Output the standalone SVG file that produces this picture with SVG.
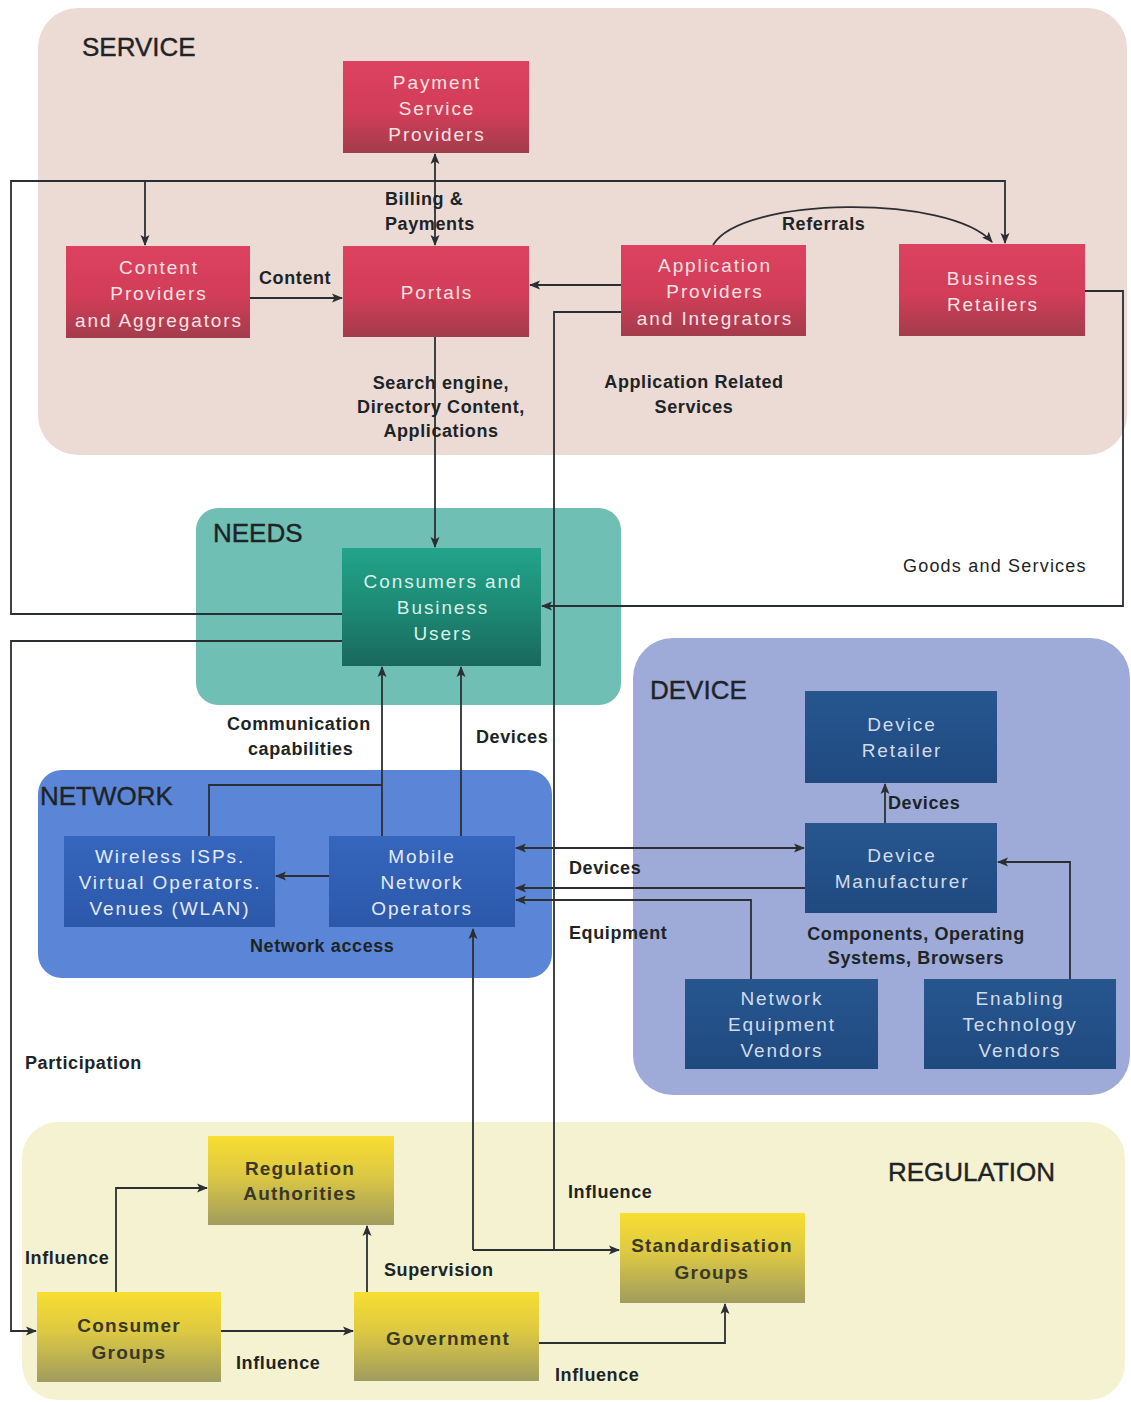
<svg xmlns="http://www.w3.org/2000/svg" width="1131" height="1402" viewBox="0 0 1131 1402">
  <defs>
    <linearGradient id="gRed" x1="0" y1="0" x2="0" y2="1">
      <stop offset="0" stop-color="#dc4260"/>
      <stop offset="0.55" stop-color="#d23d58"/>
      <stop offset="1" stop-color="#a23c4c"/>
    </linearGradient>
    <linearGradient id="gTeal" x1="0" y1="0" x2="0" y2="1">
      <stop offset="0" stop-color="#22a48b"/>
      <stop offset="0.5" stop-color="#1d8a74"/>
      <stop offset="1" stop-color="#19685d"/>
    </linearGradient>
    <linearGradient id="gNavy" x1="0" y1="0" x2="0" y2="1">
      <stop offset="0" stop-color="#27568f"/>
      <stop offset="1" stop-color="#1f4a80"/>
    </linearGradient>
    <linearGradient id="gBlue" x1="0" y1="0" x2="0" y2="1">
      <stop offset="0" stop-color="#3566bd"/>
      <stop offset="1" stop-color="#2c58aa"/>
    </linearGradient>
    <linearGradient id="gYellow" x1="0" y1="0" x2="0" y2="1">
      <stop offset="0" stop-color="#f8de30"/>
      <stop offset="0.45" stop-color="#dcc843"/>
      <stop offset="1" stop-color="#a09c5e"/>
    </linearGradient>
    <marker id="arr" markerUnits="userSpaceOnUse" markerWidth="11" markerHeight="10" refX="10" refY="5" orient="auto-start-reverse">
      <path d="M0,0.5 L11,5 L0,9.5 L2.5,5 z" fill="#2b2f33"/>
    </marker>
  </defs>
  <style>
    .zone-title { font-family: "Liberation Sans", Arial, sans-serif; font-size: 26px; fill: #1f2326; stroke: #1f2326; stroke-width: 0.4; }
    .node-text { font-family: "Liberation Sans", Arial, sans-serif; font-size: 19px; letter-spacing: 1.9px; text-anchor: middle; }
    .red .node-text { fill: #f7e2e2; }
    .teal .node-text { fill: #d9f0ea; }
    .navy .node-text { fill: #d3dcea; }
    .blue .node-text { fill: #e4eaf6; }
    .yellow .node-text { fill: #3a3826; font-weight: bold; letter-spacing: 1.2px; }
    .label { font-family: "Liberation Sans", Arial, sans-serif; font-size: 18px; font-weight: bold; letter-spacing: 0.6px; fill: #1d2426; }
    .label-c { text-anchor: middle; }
    .label-r { font-weight: normal; letter-spacing: 1.2px; font-size: 18px; }
    .wire { fill: none; stroke: #2b2f33; stroke-width: 1.8; }
    .wire-a { fill: none; stroke: #2b2f33; stroke-width: 1.8; marker-end: url(#arr); }
    .wire-aa { fill: none; stroke: #2b2f33; stroke-width: 1.8; marker-start: url(#arr); marker-end: url(#arr); }
  </style>

  <rect width="1131" height="1402" fill="#ffffff"/>

  <!-- zones -->
  <g id="zones">
    <rect x="38" y="8" width="1089" height="447" rx="40" fill="#ecdad4"/>
    <rect x="196" y="508" width="425" height="197" rx="22" fill="#6fbfb4"/>
    <rect x="633" y="638" width="497" height="457" rx="40" fill="#9eaad8"/>
    <rect x="38" y="770" width="514" height="208" rx="24" fill="#5b86d8"/>
    <rect x="22" y="1122" width="1103" height="278" rx="36" fill="#f5f2d2"/>
    <text class="zone-title" x="82" y="56">SERVICE</text>
    <text class="zone-title" x="213" y="542">NEEDS</text>
    <text class="zone-title" x="650" y="699">DEVICE</text>
    <text class="zone-title" x="40" y="805">NETWORK</text>
    <text class="zone-title" x="888" y="1181">REGULATION</text>
  </g>

  <!-- connectors -->
  <g id="connectors">
    <path class="wire-a" d="M342,614 H11 V181 H1005 V243"/>
    <path class="wire-a" d="M145,181 V245"/>
    <path class="wire-aa" d="M435,154 V245"/>
    <path class="wire-a" d="M250,298 H342"/>
    <path class="wire-a" d="M621,285 H530"/>
    <path class="wire-a" d="M713,245 C742,196 950,194 992,242"/>
    <path class="wire-a" d="M435,337 V547"/>
    <path class="wire" d="M621,312 H554 V1250"/>
    <path class="wire-a" d="M473,1250 H619"/>
    <path class="wire-a" d="M473,1250 V929"/>
    <path class="wire-a" d="M1085,291 H1123 V606 H542"/>
    <path class="wire-a" d="M342,641 H11 V1331 H36"/>
    <path class="wire-a" d="M382,836 V667"/>
    <path class="wire" d="M209,836 V785 H382"/>
    <path class="wire-a" d="M461,836 V667"/>
    <path class="wire-a" d="M329,876 H276"/>
    <path class="wire-aa" d="M516,848 H804"/>
    <path class="wire-a" d="M805,888 H516"/>
    <path class="wire-a" d="M751,979 V900 H516"/>
    <path class="wire-a" d="M885,823 V784"/>
    <path class="wire-a" d="M1070,979 V862 H998"/>
    <path class="wire-a" d="M116,1292 V1188 H207"/>
    <path class="wire-a" d="M221,1331 H353"/>
    <path class="wire-a" d="M367,1292 V1226"/>
    <path class="wire-a" d="M539,1343 H725 V1304"/>
  </g>

  <!-- connector labels -->
  <g id="labels">
    <text class="label" x="385" y="205">Billing &amp;</text>
    <text class="label" x="385" y="230">Payments</text>
    <text class="label" x="259" y="284">Content</text>
    <text class="label" x="782" y="230">Referrals</text>
    <text class="label label-c" x="441" y="389">Search engine,</text>
    <text class="label label-c" x="441" y="413">Directory Content,</text>
    <text class="label label-c" x="441" y="437">Applications</text>
    <text class="label label-c" x="694" y="388">Application Related</text>
    <text class="label label-c" x="694" y="413">Services</text>
    <text class="label label-r" x="903" y="572">Goods and Services</text>
    <text class="label" x="227" y="730">Communication</text>
    <text class="label" x="248" y="755">capabilities</text>
    <text class="label" x="476" y="743">Devices</text>
    <text class="label" x="250" y="952">Network access</text>
    <text class="label" x="569" y="874">Devices</text>
    <text class="label" x="569" y="939">Equipment</text>
    <text class="label" x="888" y="809">Devices</text>
    <text class="label label-c" x="916" y="940">Components, Operating</text>
    <text class="label label-c" x="916" y="964">Systems, Browsers</text>
    <text class="label" x="25" y="1069">Participation</text>
    <text class="label" x="25" y="1264">Influence</text>
    <text class="label" x="568" y="1198">Influence</text>
    <text class="label" x="384" y="1276">Supervision</text>
    <text class="label" x="236" y="1369">Influence</text>
    <text class="label" x="555" y="1381">Influence</text>
  </g>

  <!-- service nodes -->
  <g id="payment-service-providers" class="red">
    <rect x="343" y="61" width="186" height="92" fill="url(#gRed)"/>
    <text class="node-text" x="437" y="89">Payment</text>
    <text class="node-text" x="437" y="115">Service</text>
    <text class="node-text" x="437" y="141">Providers</text>
  </g>
  <g id="content-providers" class="red">
    <rect x="66" y="246" width="184" height="92" fill="url(#gRed)"/>
    <text class="node-text" x="159" y="274">Content</text>
    <text class="node-text" x="159" y="300">Providers</text>
    <text class="node-text" x="159" y="327">and Aggregators</text>
  </g>
  <g id="portals" class="red">
    <rect x="343" y="246" width="186" height="91" fill="url(#gRed)"/>
    <text class="node-text" x="437" y="299">Portals</text>
  </g>
  <g id="application-providers" class="red">
    <rect x="621" y="245" width="185" height="91" fill="url(#gRed)"/>
    <text class="node-text" x="715" y="272">Application</text>
    <text class="node-text" x="715" y="298">Providers</text>
    <text class="node-text" x="715" y="325">and Integrators</text>
  </g>
  <g id="business-retailers" class="red">
    <rect x="899" y="244" width="186" height="92" fill="url(#gRed)"/>
    <text class="node-text" x="993" y="285">Business</text>
    <text class="node-text" x="993" y="311">Retailers</text>
  </g>

  <!-- needs node -->
  <g id="consumers-business-users" class="teal">
    <rect x="342" y="548" width="199" height="118" fill="url(#gTeal)"/>
    <text class="node-text" x="443" y="588">Consumers and</text>
    <text class="node-text" x="443" y="614">Business</text>
    <text class="node-text" x="443" y="640">Users</text>
  </g>

  <!-- device nodes -->
  <g id="device-retailer" class="navy">
    <rect x="805" y="691" width="192" height="92" fill="url(#gNavy)"/>
    <text class="node-text" x="902" y="731">Device</text>
    <text class="node-text" x="902" y="757">Retailer</text>
  </g>
  <g id="device-manufacturer" class="navy">
    <rect x="805" y="823" width="192" height="90" fill="url(#gNavy)"/>
    <text class="node-text" x="902" y="862">Device</text>
    <text class="node-text" x="902" y="888">Manufacturer</text>
  </g>
  <g id="network-equipment-vendors" class="navy">
    <rect x="685" y="979" width="193" height="90" fill="url(#gNavy)"/>
    <text class="node-text" x="782" y="1005">Network</text>
    <text class="node-text" x="782" y="1031">Equipment</text>
    <text class="node-text" x="782" y="1057">Vendors</text>
  </g>
  <g id="enabling-technology-vendors" class="navy">
    <rect x="924" y="979" width="192" height="90" fill="url(#gNavy)"/>
    <text class="node-text" x="1020" y="1005">Enabling</text>
    <text class="node-text" x="1020" y="1031">Technology</text>
    <text class="node-text" x="1020" y="1057">Vendors</text>
  </g>

  <!-- network nodes -->
  <g id="wireless-isps" class="blue">
    <rect x="64" y="836" width="211" height="91" fill="url(#gBlue)"/>
    <text class="node-text" x="170" y="863">Wireless ISPs.</text>
    <text class="node-text" x="170" y="889">Virtual Operators.</text>
    <text class="node-text" x="170" y="915">Venues (WLAN)</text>
  </g>
  <g id="mobile-network-operators" class="blue">
    <rect x="329" y="836" width="186" height="91" fill="url(#gBlue)"/>
    <text class="node-text" x="422" y="863">Mobile</text>
    <text class="node-text" x="422" y="889">Network</text>
    <text class="node-text" x="422" y="915">Operators</text>
  </g>

  <!-- regulation nodes -->
  <g id="regulation-authorities" class="yellow">
    <rect x="208" y="1136" width="186" height="89" fill="url(#gYellow)"/>
    <text class="node-text" x="300" y="1175">Regulation</text>
    <text class="node-text" x="300" y="1200">Authorities</text>
  </g>
  <g id="consumer-groups" class="yellow">
    <rect x="37" y="1292" width="184" height="90" fill="url(#gYellow)"/>
    <text class="node-text" x="129" y="1332">Consumer</text>
    <text class="node-text" x="129" y="1359">Groups</text>
  </g>
  <g id="government" class="yellow">
    <rect x="354" y="1292" width="185" height="89" fill="url(#gYellow)"/>
    <text class="node-text" x="448" y="1345">Government</text>
  </g>
  <g id="standardisation-groups" class="yellow">
    <rect x="620" y="1213" width="185" height="90" fill="url(#gYellow)"/>
    <text class="node-text" x="712" y="1252">Standardisation</text>
    <text class="node-text" x="712" y="1279">Groups</text>
  </g>
</svg>
